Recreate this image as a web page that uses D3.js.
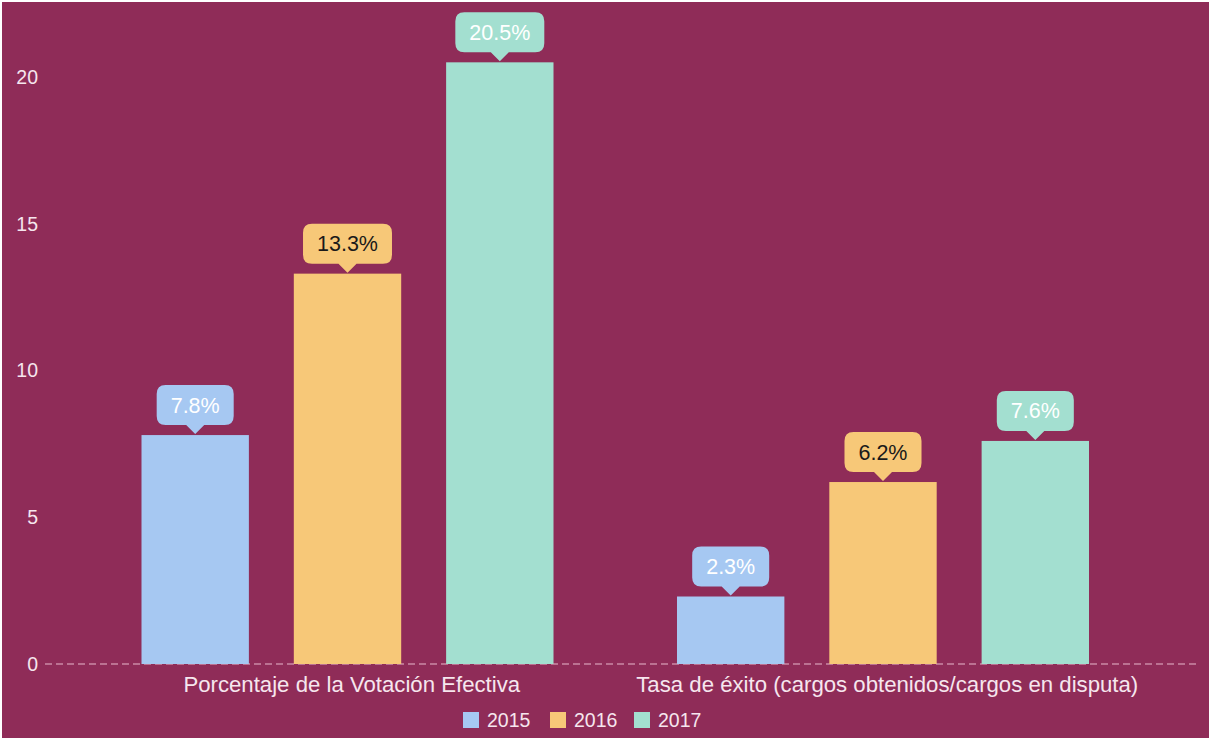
<!DOCTYPE html>
<html>
<head>
<meta charset="utf-8">
<script src="https://cdn.jsdelivr.net/npm/d3@7"></script>
<style>
  body { margin: 0; background: #fff; }
  svg { display: block; margin: 2px 0 0 2px; font-family: "Liberation Sans", Arial, sans-serif; }
</style>
</head>
<body>
<script>
const categories = ['Porcentaje de la Votación Efectiva', 'Tasa de éxito (cargos obtenidos/cargos en disputa)'];
const years = ['2015', '2016', '2017'];
const values2015 = [7.8, 2.3];
const values2016 = [13.3, 6.2];
const values2017 = [20.5, 7.6];
const yTicks = [0, 5, 10, 15, 20];

const colors = { '2015': '#a6c8f2', '2016': '#f7c878', '2017': '#a3dfd0' };
const labelColors = { '2015': '#ffffff', '2016': '#1a1a1a', '2017': '#ffffff' };
const series = { '2015': values2015, '2016': values2016, '2017': values2017 };

const width = 1207, height = 736;
const font = '"Liberation Sans", Arial, sans-serif';

const svg = d3.select('body').append('svg')
  .attr('width', width)
  .attr('height', height);

svg.append('rect').attr('width', width).attr('height', height).attr('fill', '#8f2c58');

const x0 = d3.scaleBand()
  .domain(categories)
  .range([78, 1149]);

const x1 = d3.scaleBand()
  .domain(years)
  .range([61.5, 473.5])
  .paddingInner(0.295);

const y = d3.scaleLinear()
  .domain([0, 20])
  .range([662, 75]);

// baseline
svg.append('line')
  .attr('x1', 43).attr('x2', 1195)
  .attr('y1', y(0)).attr('y2', y(0))
  .attr('stroke', '#e8b8cc')
  .attr('stroke-width', 1)
  .attr('stroke-dasharray', '7,4');

// y axis
const yAxis = svg.append('g')
  .call(d3.axisLeft(y).tickValues(yTicks).tickSize(0).tickPadding(0))
  .attr('transform', 'translate(36,0)');
yAxis.select('.domain').remove();
yAxis.selectAll('text')
  .attr('fill', '#f6e6ee')
  .attr('font-size', 19.5)
  .attr('font-family', font);

// x axis labels
const xAxis = svg.append('g')
  .attr('transform', `translate(4,${y(0)})`)
  .call(d3.axisBottom(x0).tickSize(0).tickPadding(12));
xAxis.select('.domain').remove();
xAxis.selectAll('text')
  .attr('fill', '#f6e6ee')
  .attr('font-size', 22.2)
  .attr('font-family', font);

const rows = [];
categories.forEach((c, i) => {
  years.forEach(yr => rows.push({ cat: c, year: yr, value: series[yr][i] }));
});

const groups = svg.selectAll('.bar-group')
  .data(rows)
  .enter()
  .append('g')
  .attr('transform', d => `translate(${x0(d.cat) + x1(d.year)},0)`);

groups.append('rect')
  .attr('x', 0)
  .attr('y', d => y(d.value))
  .attr('width', x1.bandwidth())
  .attr('height', d => y(0) - y(d.value))
  .attr('fill', d => colors[d.year]);

// callout labels
const bw = x1.bandwidth();
const boxH = 40, r = 9, tri = 9, padX = 14;
const callout = groups.append('path').attr('fill', d => colors[d.year]);

const labels = groups.append('text')
  .attr('x', bw / 2)
  .attr('y', d => y(d.value) - tri - 1 - boxH / 2)
  .attr('dy', '0.35em')
  .attr('text-anchor', 'middle')
  .attr('font-size', 21.5)
  .attr('font-family', font)
  .attr('fill', d => labelColors[d.year])
  .text(d => d.value.toFixed(1) + '%');

callout.attr('d', function (d, i) {
  const tw = labels.nodes()[i].getComputedTextLength();
  const boxW = tw + padX * 2;
  const cx = bw / 2;
  const bottom = y(d.value) - tri - 1;
  const top = bottom - boxH;
  const l = cx - boxW / 2, rt = cx + boxW / 2;
  return `M${l + r},${top} L${rt - r},${top} Q${rt},${top} ${rt},${top + r}
    L${rt},${bottom - r} Q${rt},${bottom} ${rt - r},${bottom}
    L${cx + tri},${bottom} L${cx},${bottom + tri} L${cx - tri},${bottom}
    L${l + r},${bottom} Q${l},${bottom} ${l},${bottom - r}
    L${l},${top + r} Q${l},${top} ${l + r},${top} Z`;
});

// legend
const legend = svg.append('g').attr('transform', 'translate(461,710)');
const legendX = d3.scaleOrdinal().domain(years).range([0, 87, 171]);
const items = legend.selectAll('g')
  .data(years)
  .enter()
  .append('g')
  .attr('transform', d => `translate(${legendX(d)},0)`);
items.append('rect')
  .attr('width', 16).attr('height', 16)
  .attr('fill', d => colors[d]);
items.append('text')
  .attr('x', 24).attr('y', 8)
  .attr('dy', '0.36em')
  .attr('font-size', 19.5)
  .attr('font-family', font)
  .attr('fill', '#f6e6ee')
  .text(d => d);
</script>
</body>
</html>
